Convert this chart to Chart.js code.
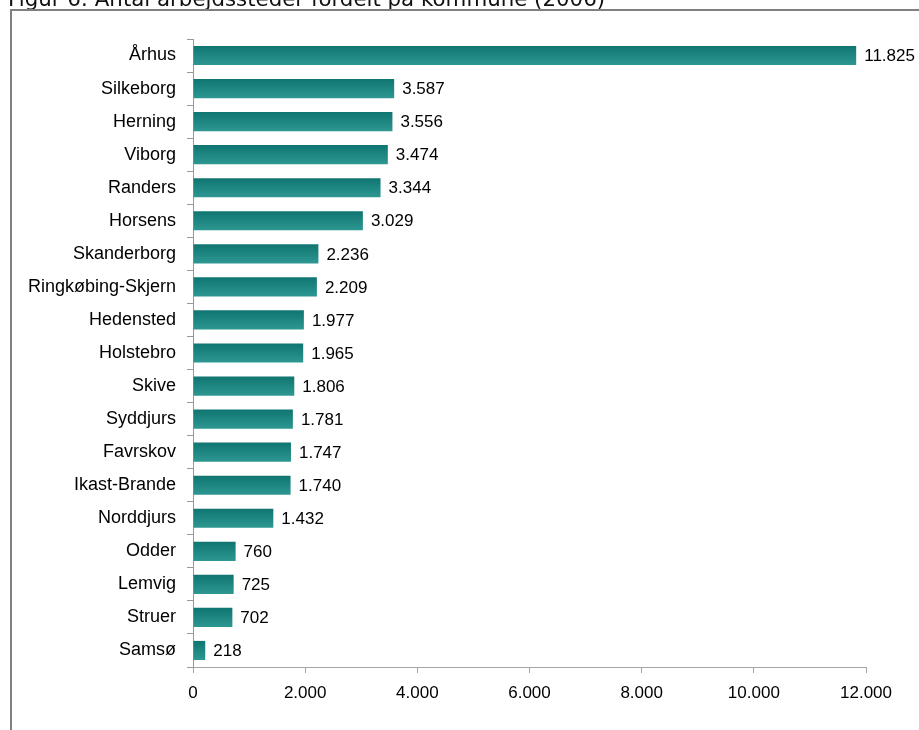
<!DOCTYPE html>
<html>
<head>
<meta charset="utf-8">
<script src="https://cdn.jsdelivr.net/npm/chart.js@4.4.0/dist/chart.umd.min.js"></script>
<style>
  html, body { margin: 0; padding: 0; background: #fff; overflow: hidden; }
  #chart { display: block; }
</style>
</head>
<body>
<canvas id="chart" width="919" height="730"></canvas>
<script>
// ---------- data ----------
const kommuner = ['Århus', 'Silkeborg', 'Herning', 'Viborg', 'Randers', 'Horsens', 'Skanderborg',
  'Ringkøbing-Skjern', 'Hedensted', 'Holstebro', 'Skive', 'Syddjurs', 'Favrskov', 'Ikast-Brande',
  'Norddjurs', 'Odder', 'Lemvig', 'Struer', 'Samsø'];
const arbejdssteder = [11825, 3587, 3556, 3474, 3344, 3029, 2236, 2209, 1977, 1965, 1806, 1781,
  1747, 1740, 1432, 760, 725, 702, 218];
const xTicks = [0, 2000, 4000, 6000, 8000, 10000, 12000];
const titleText = 'Figur 6: Antal arbejdssteder fordelt på kommune (2006)';

// danish number format, 11825 -> 11.825
function fmt(v) {
    return String(v).replace(/\B(?=(\d{3})+(?!\d))/g, '.');
}

// ---------- plugins ----------
const framePlugin = {
    id: 'frame',
    beforeDraw(chart) {
        const c = chart.ctx;
        c.save();
        c.fillStyle = '#fff';
        c.fillRect(0, 0, chart.width, chart.height);
        // title, mostly cut off by the top of the page
        c.fillStyle = '#111';
        c.font = '21.33px "DejaVu Sans"';
        c.textBaseline = 'alphabetic';
        c.textAlign = 'left';
        c.fillText(titleText, 8, 6);
        // white box with grey border (right and bottom run off the page)
        c.fillStyle = '#fff';
        c.fillRect(11, 10, chart.width, chart.height);
        c.strokeStyle = '#808080';
        c.lineWidth = 2;
        c.beginPath();
        c.moveTo(11, chart.height);
        c.lineTo(11, 10);
        c.lineTo(chart.width, 10);
        c.stroke();
        c.restore();
    }
};

const valueLabels = {
    id: 'valueLabels',
    afterDatasetsDraw(chart) {
        const c = chart.ctx;
        const meta = chart.getDatasetMeta(0);
        c.save();
        c.fillStyle = '#000';
        c.font = '17px "Liberation Sans"';
        c.textAlign = 'left';
        c.textBaseline = 'middle';
        meta.data.forEach((bar, i) => {
            c.fillText(fmt(arbejdssteder[i]), bar.x + 8, bar.y + 1);
        });
        c.restore();
    }
};

function barGradient(context) {
    const chart = context.chart;
    if (!chart.chartArea) return '#1d8681';
    const yScale = chart.scales.y;
    const yc = yScale.getPixelForValue(context.dataIndex);
    const half = 10;
    const g = chart.ctx.createLinearGradient(0, yc - half, 0, yc + half);
    g.addColorStop(0, '#0f746f');
    g.addColorStop(1, '#2e9893');
    return g;
}

// ---------- chart ----------
new Chart(document.getElementById('chart'), {
    type: 'bar',
    data: {
        labels: kommuner,
        datasets: [{
            data: arbejdssteder,
            backgroundColor: barGradient,
            borderWidth: 0,
            categoryPercentage: 1.0,
            barPercentage: 0.58,
        }]
    },
    options: {
        indexAxis: 'y',
        responsive: false,
        animation: false,
        devicePixelRatio: 1,
        layout: { padding: { top: 39, right: 53, left: 0, bottom: 0 } },
        plugins: {
            legend: { display: false },
            tooltip: { enabled: false },
            title: { display: false },
        },
        scales: {
            x: {
                min: 0,
                max: 12000,
                afterBuildTicks: axis => { axis.ticks = xTicks.map(v => ({ value: v })); },
                afterFit: axis => { axis.height = 63; },
                border: { color: '#a6a6a6', width: 1 },
                grid: { drawOnChartArea: false, color: '#a6a6a6', tickLength: 6 },
                ticks: {
                    color: '#000',
                    padding: 10,
                    font: { family: 'Liberation Sans', size: 17 },
                    callback: v => fmt(v),
                },
            },
            y: {
                afterFit: axis => { axis.width = 193; },
                border: { color: '#999', width: 1 },
                grid: { drawOnChartArea: false, color: '#999', tickLength: 6, offset: true },
                ticks: {
                    color: '#000',
                    padding: 11,
                    font: { family: 'Liberation Sans', size: 18 },
                },
            },
        },
    },
    plugins: [framePlugin, valueLabels],
});
</script>
</body>
</html>
